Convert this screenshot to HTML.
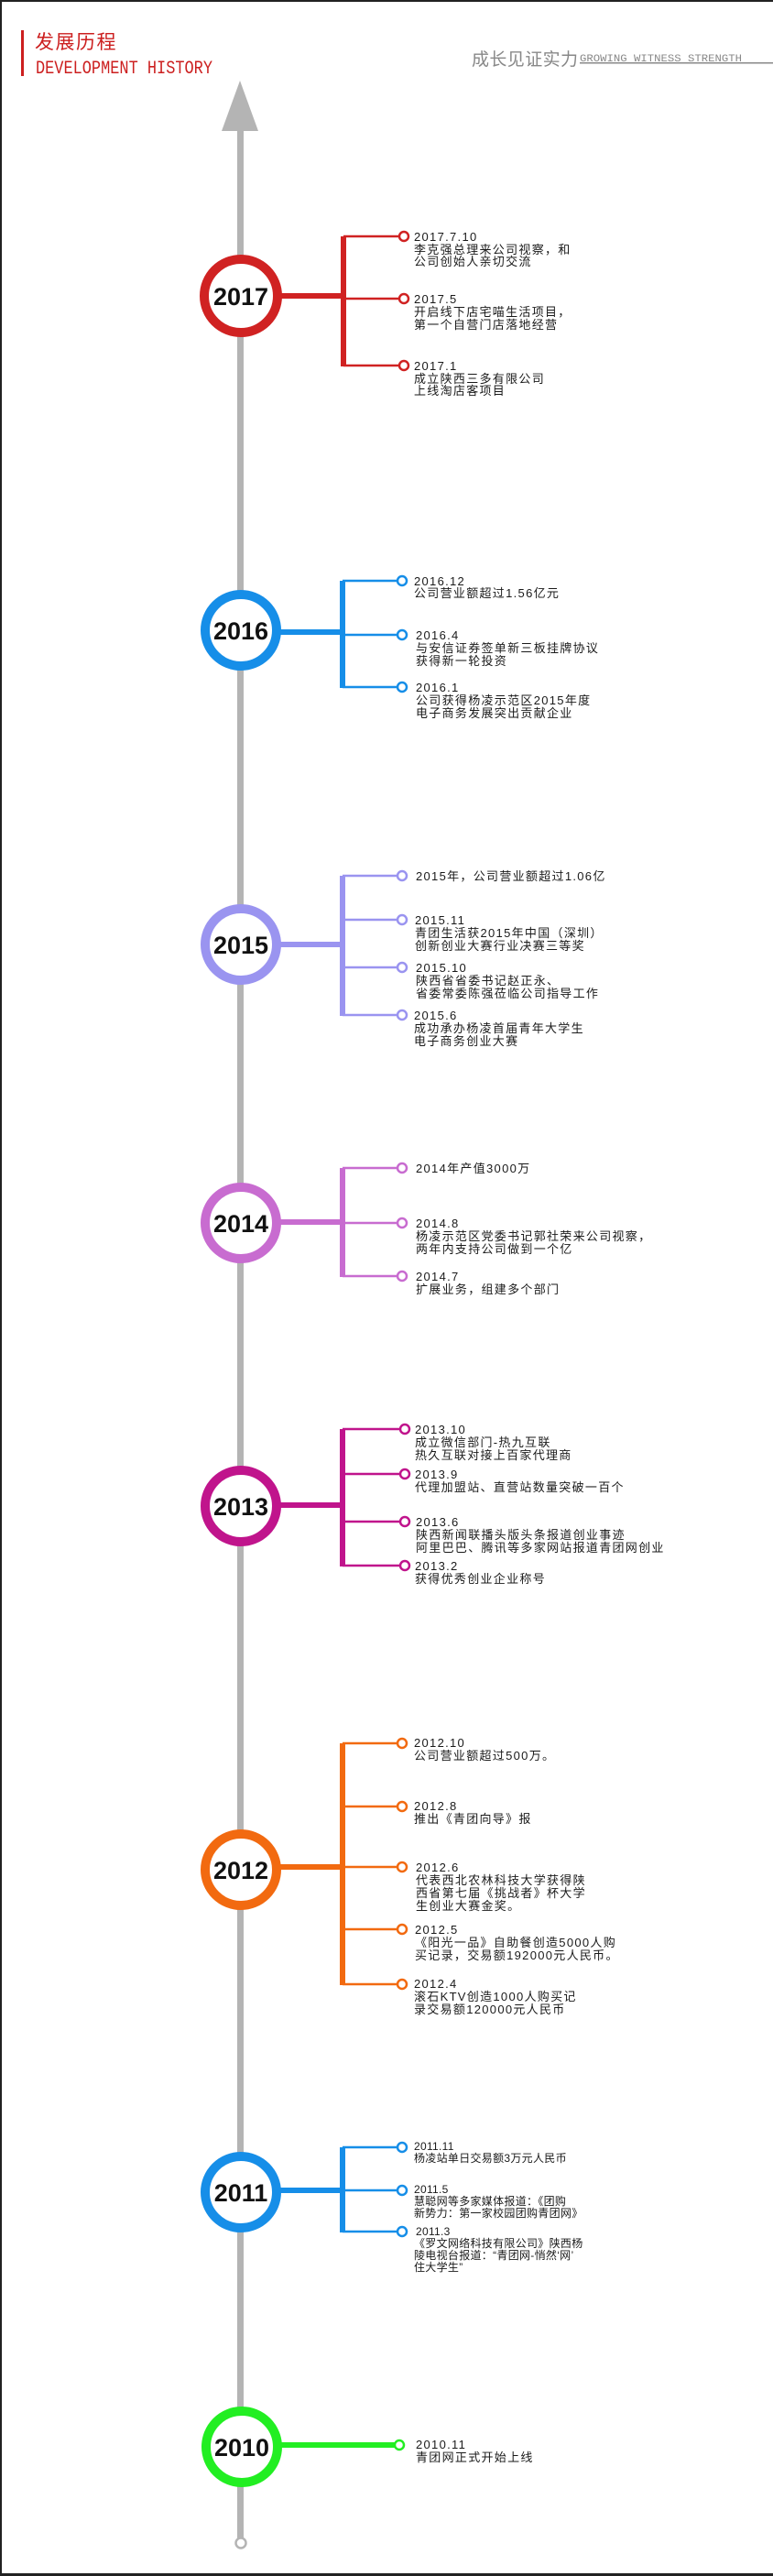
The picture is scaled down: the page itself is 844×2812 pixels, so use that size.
<!DOCTYPE html>
<html><head><meta charset="utf-8"><style>
html,body{margin:0;padding:0;background:#fff;}
svg{display:block;}
text{font-family:"Liberation Sans","Noto Sans CJK SC",sans-serif;}
.t{font-size:13px;fill:#1a1a1a;letter-spacing:1.3px;}
.s{font-size:12px;fill:#1a1a1a;letter-spacing:0.3px;}
.y{font-size:27px;font-weight:bold;fill:#111;}
</style></head><body>
<svg width="844" height="2812" viewBox="0 0 844 2812" xmlns="http://www.w3.org/2000/svg">
<rect x="0" y="0" width="844" height="2812" fill="#fff"/>
<rect x="0" y="0" width="844" height="2" fill="#222"/>
<rect x="0" y="0" width="2" height="2812" fill="#222"/>
<rect x="0" y="2809" width="844" height="3" fill="#222"/>
<!-- header -->
<rect x="23" y="33" width="3" height="50" fill="#cc1f1f"/>
<text x="38" y="53" font-size="21" fill="#cc1f1f" letter-spacing="1.5" style="font-family:'Noto Sans CJK SC',sans-serif">发展历程</text>
<text x="39" y="80" font-size="17" fill="#cc1f1f" transform="translate(0,-16) scale(1,1.2)" style="font-family:'Liberation Mono',monospace" textLength="193" lengthAdjust="spacingAndGlyphs">DEVELOPMENT HISTORY</text>
<text x="515" y="71" font-size="19" fill="#888" style="font-family:'Noto Sans CJK SC',sans-serif" textLength="116">成长见证实力</text>
<text x="633" y="67" font-size="11" fill="#888" style="font-family:'Liberation Mono',monospace" textLength="177" lengthAdjust="spacingAndGlyphs">GROWING WITNESS STRENGTH</text>
<rect x="633" y="68" width="211" height="1.5" fill="#888"/>
<!-- main line -->
<polygon points="262,88 242,143 282,143" fill="#b4b4b4"/>
<rect x="259" y="140" width="7" height="2631" fill="#b4b4b4"/>
<circle cx="263" cy="2776" r="5.5" fill="#fff" stroke="#b4b4b4" stroke-width="2.5"/>

<!-- 2017 -->
<g stroke="#d02222" fill="none">
<line x1="300" y1="323" x2="376" y2="323" stroke-width="6"/>
<line x1="375" y1="258" x2="375" y2="400" stroke-width="6"/>
<line x1="375" y1="258" x2="436" y2="258" stroke-width="2.5"/>
<line x1="375" y1="326" x2="436" y2="326" stroke-width="2.5"/>
<line x1="375" y1="399" x2="436" y2="399" stroke-width="2.5"/>
<circle cx="441" cy="258" r="5" stroke-width="2.5" fill="#fff"/>
<circle cx="441" cy="326" r="5" stroke-width="2.5" fill="#fff"/>
<circle cx="441" cy="399" r="5" stroke-width="2.5" fill="#fff"/>
<circle cx="263" cy="323" r="40" stroke-width="10" fill="#fff"/>
</g>
<text class="y" x="263" y="333" text-anchor="middle">2017</text>
<text class="t" x="452" y="263">2017.7.10</text>
<text class="t" x="452" y="277">李克强总理来公司视察，和</text>
<text class="t" x="452" y="290">公司创始人亲切交流</text>
<text class="t" x="452" y="331">2017.5</text>
<text class="t" x="452" y="345">开启线下店宅喵生活项目，</text>
<text class="t" x="452" y="359">第一个自营门店落地经营</text>
<text class="t" x="452" y="404">2017.1</text>
<text class="t" x="452" y="418">成立陕西三多有限公司</text>
<text class="t" x="452" y="431">上线淘店客项目</text>

<!-- 2016 -->
<g stroke="#168ee8" fill="none">
<line x1="300" y1="690" x2="376" y2="690" stroke-width="6"/>
<line x1="374" y1="634" x2="374" y2="751" stroke-width="6"/>
<line x1="374" y1="634" x2="434" y2="634" stroke-width="2.5"/>
<line x1="374" y1="693" x2="434" y2="693" stroke-width="2.5"/>
<line x1="374" y1="750" x2="434" y2="750" stroke-width="2.5"/>
<circle cx="439" cy="634" r="5" stroke-width="2.5" fill="#fff"/>
<circle cx="439" cy="693" r="5" stroke-width="2.5" fill="#fff"/>
<circle cx="439" cy="750" r="5" stroke-width="2.5" fill="#fff"/>
<circle cx="263" cy="688" r="39" stroke-width="10" fill="#fff"/>
</g>
<text class="y" x="263" y="698" text-anchor="middle">2016</text>
<text class="t" x="452" y="639">2016.12</text>
<text class="t" x="452" y="652">公司营业额超过1.56亿元</text>
<text class="t" x="454" y="698">2016.4</text>
<text class="t" x="454" y="712">与安信证券签单新三板挂牌协议</text>
<text class="t" x="454" y="726">获得新一轮投资</text>
<text class="t" x="454" y="755">2016.1</text>
<text class="t" x="454" y="769">公司获得杨凌示范区2015年度</text>
<text class="t" x="454" y="783">电子商务发展突出贡献企业</text>

<!-- 2015 -->
<g stroke="#9a94f0" fill="none">
<line x1="300" y1="1031" x2="376" y2="1031" stroke-width="6"/>
<line x1="374" y1="956" x2="374" y2="1109" stroke-width="6"/>
<line x1="374" y1="956" x2="434" y2="956" stroke-width="2.5"/>
<line x1="374" y1="1004" x2="434" y2="1004" stroke-width="2.5"/>
<line x1="374" y1="1056" x2="434" y2="1056" stroke-width="2.5"/>
<line x1="374" y1="1108" x2="434" y2="1108" stroke-width="2.5"/>
<circle cx="439" cy="956" r="5" stroke-width="2.5" fill="#fff"/>
<circle cx="439" cy="1004" r="5" stroke-width="2.5" fill="#fff"/>
<circle cx="439" cy="1056" r="5" stroke-width="2.5" fill="#fff"/>
<circle cx="439" cy="1108" r="5" stroke-width="2.5" fill="#fff"/>
<circle cx="263" cy="1031" r="39" stroke-width="10" fill="#fff"/>
</g>
<text class="y" x="263" y="1041" text-anchor="middle">2015</text>
<text class="t" x="454" y="961">2015年，公司营业额超过1.06亿</text>
<text class="t" x="453" y="1009">2015.11</text>
<text class="t" x="453" y="1023">青团生活获2015年中国（深圳）</text>
<text class="t" x="453" y="1037">创新创业大赛行业决赛三等奖</text>
<text class="t" x="454" y="1061">2015.10</text>
<text class="t" x="454" y="1075">陕西省省委书记赵正永、</text>
<text class="t" x="454" y="1089">省委常委陈强莅临公司指导工作</text>
<text class="t" x="452" y="1113">2015.6</text>
<text class="t" x="452" y="1127">成功承办杨凌首届青年大学生</text>
<text class="t" x="452" y="1141">电子商务创业大赛</text>

<!-- 2014 -->
<g stroke="#c86cd0" fill="none">
<line x1="300" y1="1334" x2="376" y2="1334" stroke-width="6"/>
<line x1="374" y1="1275" x2="374" y2="1394" stroke-width="6"/>
<line x1="374" y1="1275" x2="434" y2="1275" stroke-width="2.5"/>
<line x1="374" y1="1335" x2="434" y2="1335" stroke-width="2.5"/>
<line x1="374" y1="1393" x2="434" y2="1393" stroke-width="2.5"/>
<circle cx="439" cy="1275" r="5" stroke-width="2.5" fill="#fff"/>
<circle cx="439" cy="1335" r="5" stroke-width="2.5" fill="#fff"/>
<circle cx="439" cy="1393" r="5" stroke-width="2.5" fill="#fff"/>
<circle cx="263" cy="1335" r="39" stroke-width="10" fill="#fff"/>
</g>
<text class="y" x="263" y="1345" text-anchor="middle">2014</text>
<text class="t" x="454" y="1280">2014年产值3000万</text>
<text class="t" x="454" y="1340">2014.8</text>
<text class="t" x="454" y="1354">杨凌示范区党委书记郭社荣来公司视察，</text>
<text class="t" x="454" y="1368">两年内支持公司做到一个亿</text>
<text class="t" x="454" y="1398">2014.7</text>
<text class="t" x="454" y="1412">扩展业务，组建多个部门</text>

<!-- 2013 -->
<g stroke="#c0148c" fill="none">
<line x1="300" y1="1643" x2="376" y2="1643" stroke-width="6"/>
<line x1="374" y1="1560" x2="374" y2="1710" stroke-width="6"/>
<line x1="374" y1="1560" x2="438" y2="1560" stroke-width="2.5"/>
<line x1="374" y1="1609" x2="438" y2="1609" stroke-width="2.5"/>
<line x1="374" y1="1661" x2="438" y2="1661" stroke-width="2.5"/>
<line x1="374" y1="1709" x2="438" y2="1709" stroke-width="2.5"/>
<circle cx="442" cy="1560" r="5" stroke-width="2.5" fill="#fff"/>
<circle cx="442" cy="1609" r="5" stroke-width="2.5" fill="#fff"/>
<circle cx="442" cy="1661" r="5" stroke-width="2.5" fill="#fff"/>
<circle cx="442" cy="1709" r="5" stroke-width="2.5" fill="#fff"/>
<circle cx="263" cy="1644" r="39" stroke-width="10" fill="#fff"/>
</g>
<text class="y" x="263" y="1654" text-anchor="middle">2013</text>
<text class="t" x="453" y="1565">2013.10</text>
<text class="t" x="453" y="1579">成立微信部门-热九互联</text>
<text class="t" x="453" y="1593">热久互联对接上百家代理商</text>
<text class="t" x="453" y="1614">2013.9</text>
<text class="t" x="453" y="1628">代理加盟站、直营站数量突破一百个</text>
<text class="t" x="454" y="1666">2013.6</text>
<text class="t" x="454" y="1680">陕西新闻联播头版头条报道创业事迹</text>
<text class="t" x="454" y="1694">阿里巴巴、腾讯等多家网站报道青团网创业</text>
<text class="t" x="453" y="1714">2013.2</text>
<text class="t" x="453" y="1728">获得优秀创业企业称号</text>

<!-- 2012 -->
<g stroke="#f26a10" fill="none">
<line x1="300" y1="2038" x2="376" y2="2038" stroke-width="6"/>
<line x1="374" y1="1903" x2="374" y2="2167" stroke-width="6"/>
<line x1="374" y1="1903" x2="434" y2="1903" stroke-width="2.5"/>
<line x1="374" y1="1972" x2="434" y2="1972" stroke-width="2.5"/>
<line x1="374" y1="2038" x2="434" y2="2038" stroke-width="2.5"/>
<line x1="374" y1="2106" x2="434" y2="2106" stroke-width="2.5"/>
<line x1="374" y1="2166" x2="434" y2="2166" stroke-width="2.5"/>
<circle cx="439" cy="1903" r="5" stroke-width="2.5" fill="#fff"/>
<circle cx="439" cy="1972" r="5" stroke-width="2.5" fill="#fff"/>
<circle cx="439" cy="2038" r="5" stroke-width="2.5" fill="#fff"/>
<circle cx="439" cy="2106" r="5" stroke-width="2.5" fill="#fff"/>
<circle cx="439" cy="2166" r="5" stroke-width="2.5" fill="#fff"/>
<circle cx="263" cy="2041" r="39" stroke-width="10" fill="#fff"/>
</g>
<text class="y" x="263" y="2051" text-anchor="middle">2012</text>
<text class="t" x="452" y="1907">2012.10</text>
<text class="t" x="452" y="1921">公司营业额超过500万。</text>
<text class="t" x="452" y="1976">2012.8</text>
<text class="t" x="452" y="1990">推出《青团向导》报</text>
<text class="t" x="454" y="2043">2012.6</text>
<text class="t" x="454" y="2057">代表西北农林科技大学获得陕</text>
<text class="t" x="454" y="2071">西省第七届《挑战者》杯大学</text>
<text class="t" x="454" y="2085">生创业大赛金奖。</text>
<text class="t" x="453" y="2111">2012.5</text>
<text class="t" x="453" y="2125">《阳光一品》自助餐创造5000人购</text>
<text class="t" x="453" y="2139">买记录，交易额192000元人民币。</text>
<text class="t" x="452" y="2170">2012.4</text>
<text class="t" x="452" y="2184">滚石KTV创造1000人购买记</text>
<text class="t" x="452" y="2198">录交易额120000元人民币</text>

<!-- 2011 -->
<g stroke="#168ee8" fill="none">
<line x1="300" y1="2391" x2="376" y2="2391" stroke-width="6"/>
<line x1="374" y1="2344" x2="374" y2="2437" stroke-width="6"/>
<line x1="374" y1="2344" x2="434" y2="2344" stroke-width="2.5"/>
<line x1="374" y1="2391" x2="434" y2="2391" stroke-width="2.5"/>
<line x1="374" y1="2436" x2="434" y2="2436" stroke-width="2.5"/>
<circle cx="439" cy="2344" r="5" stroke-width="2.5" fill="#fff"/>
<circle cx="439" cy="2391" r="5" stroke-width="2.5" fill="#fff"/>
<circle cx="439" cy="2436" r="5" stroke-width="2.5" fill="#fff"/>
<circle cx="263" cy="2393" r="39" stroke-width="10" fill="#fff"/>
</g>
<text class="y" x="263" y="2403" text-anchor="middle">2011</text>
<text class="s" x="452" y="2347">2011.11</text>
<text class="s" x="452" y="2360">杨凌站单日交易额3万元人民币</text>
<text class="s" x="452" y="2394">2011.5</text>
<text class="s" x="452" y="2407">慧聪网等多家媒体报道：《团购</text>
<text class="s" x="452" y="2420">新势力：第一家校园团购青团网》</text>
<text class="s" x="454" y="2440">2011.3</text>
<text class="s" x="452" y="2453">《罗文网络科技有限公司》陕西杨</text>
<text class="s" x="452" y="2466">陵电视台报道：“青团网-悄然‘网’</text>
<text class="s" x="452" y="2479">住大学生”</text>

<!-- 2010 -->
<g stroke="#22ee22" fill="none">
<line x1="300" y1="2669" x2="432" y2="2669" stroke-width="6"/>
<circle cx="436" cy="2669" r="5" stroke-width="2.5" fill="#fff"/>
<circle cx="264" cy="2671" r="39" stroke-width="10" fill="#fff"/>
</g>
<text class="y" x="264" y="2681" text-anchor="middle">2010</text>
<text class="t" x="454" y="2673">2010.11</text>
<text class="t" x="454" y="2687">青团网正式开始上线</text>
</svg>
</body></html>
